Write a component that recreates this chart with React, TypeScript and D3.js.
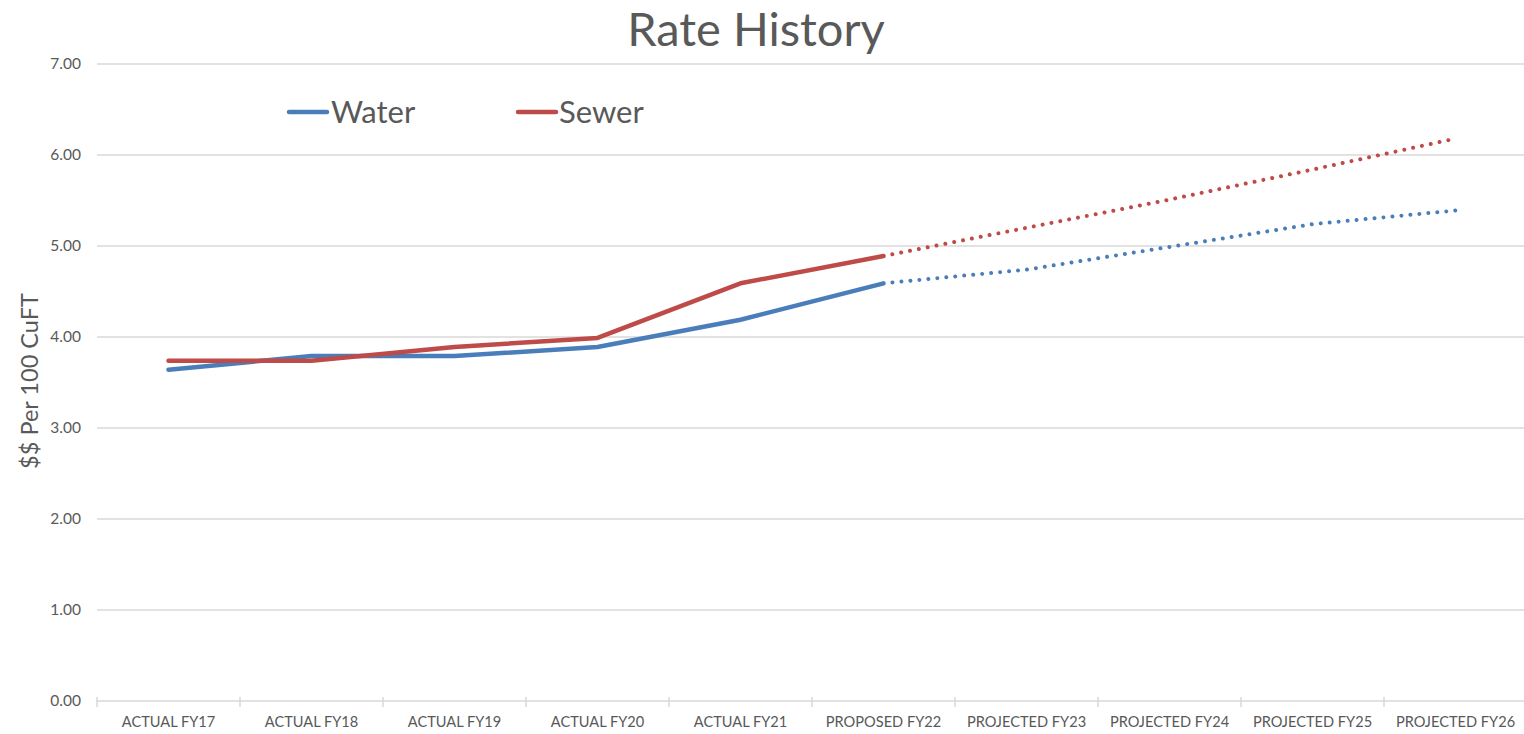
/**
 * RateHistory chart
 *
 * Water & sewer rates per 100 CuFT, actual + projected.
 * Solid line for actual/proposed years, dotted for projections.
 */

import { useEffect, useRef } from 'react';
import * as d3 from 'd3';

const categories = [
  'ACTUAL FY17',
  'ACTUAL FY18',
  'ACTUAL FY19',
  'ACTUAL FY20',
  'ACTUAL FY21',
  'PROPOSED FY22',
  'PROJECTED FY23',
  'PROJECTED FY24',
  'PROJECTED FY25',
  'PROJECTED FY26',
];

const waterRates = [3.64, 3.79, 3.79, 3.89, 4.19, 4.59, 4.74, 4.99, 5.24, 5.39];
const sewerRates = [3.74, 3.74, 3.89, 3.99, 4.59, 4.89, 5.2, 5.51, 5.84, 6.18];

// last index drawn solid, the rest is projected (dotted)
const lastActual = 5;

const yTicks = [0, 1, 2, 3, 4, 5, 6, 7];

const WIDTH = 1524;
const HEIGHT = 734;
const FONT = 'Lato, "Open Sans", sans-serif';
const TEXT = '#595959';

export default function App() {
  const svgRef = useRef<SVGSVGElement>(null);

  useEffect(() => {
    if (!svgRef.current) return;
    const svg = d3.select(svgRef.current);
    svg.selectAll('*').remove();

    const x = d3.scaleBand<string>().domain(categories).range([97, 1527]);
    const y = d3.scaleLinear().domain([0, 7]).range([701, 64]);
    const cx = (i: number) => (x(categories[i]) ?? 0) + x.bandwidth() / 2;

    // title
    svg
      .append('text')
      .attr('x', 756)
      .attr('y', 46)
      .attr('text-anchor', 'middle')
      .style('font-family', FONT)
      .style('font-size', '47px')
      .style('fill', TEXT)
      .text('Rate History');

    // gridlines + y labels
    const grid = svg.append('g');
    grid
      .selectAll('line')
      .data(yTicks.filter((d) => d > 0))
      .enter()
      .append('line')
      .attr('x1', 97)
      .attr('x2', 1527)
      .attr('y1', (d) => y(d))
      .attr('y2', (d) => y(d))
      .style('stroke', '#d9d9d9')
      .style('stroke-width', '1.5px');

    grid
      .selectAll('text')
      .data(yTicks)
      .enter()
      .append('text')
      .attr('x', 81)
      .attr('y', (d) => y(d))
      .attr('dy', '0.35em')
      .attr('text-anchor', 'end')
      .style('font-family', FONT)
      .style('font-size', '15.5px')
      .style('fill', TEXT)
      .text((d) => d3.format('.2f')(d));

    // x axis line with tick marks at category boundaries
    const xAxis = svg.append('g');
    xAxis
      .append('line')
      .attr('x1', 97)
      .attr('x2', 1527)
      .attr('y1', y(0))
      .attr('y2', y(0))
      .style('stroke', '#d9d9d9')
      .style('stroke-width', '1.5px');

    const bounds = categories.map((c) => x(c) ?? 0);
    xAxis
      .selectAll('.tick')
      .data(bounds)
      .enter()
      .append('line')
      .attr('class', 'tick')
      .attr('x1', (d) => d)
      .attr('x2', (d) => d)
      .attr('y1', y(0) - 4)
      .attr('y2', y(0) + 6)
      .style('stroke', '#d9d9d9')
      .style('stroke-width', '1.5px');

    xAxis
      .selectAll('.label')
      .data(categories)
      .enter()
      .append('text')
      .attr('class', 'label')
      .attr('x', (_d, i) => cx(i))
      .attr('y', 727)
      .attr('text-anchor', 'middle')
      .style('font-family', FONT)
      .style('font-size', '14.6px')
      .style('fill', TEXT)
      .text((d) => d);

    // y axis title
    svg
      .append('text')
      .attr('transform', 'translate(38, 381) rotate(-90)')
      .attr('text-anchor', 'middle')
      .style('font-family', FONT)
      .style('font-size', '23.5px')
      .style('fill', TEXT)
      .text('$$ Per 100 CuFT');

    // series
    const series = [
      { name: 'Water', values: waterRates, color: '#4a7ebb' },
      { name: 'Sewer', values: sewerRates, color: '#be4b48' },
    ];

    const line = d3
      .line<[number, number]>()
      .x((d) => cx(d[0]))
      .y((d) => y(d[1]));

    series.forEach((s) => {
      const pts: [number, number][] = s.values.map((v, i) => [i, v]);

      svg
        .append('path')
        .attr('d', line(pts.slice(0, lastActual + 1)))
        .style('fill', 'none')
        .style('stroke', s.color)
        .style('stroke-width', '4.5px')
        .style('stroke-linejoin', 'round')
        .style('stroke-linecap', 'round');

      svg
        .append('path')
        .attr('d', line(pts.slice(lastActual)))
        .style('fill', 'none')
        .style('stroke', s.color)
        .style('stroke-width', '4px')
        .style('stroke-linecap', 'round')
        .style('stroke-dasharray', '0.01 9')
        .style('stroke-dashoffset', '-9');
    });

    // legend
    const legendPos = [
      { x1: 289, x2: 327, tx: 331 },
      { x1: 518, x2: 556, tx: 559 },
    ];
    series.forEach((s, i) => {
      const p = legendPos[i];
      svg
        .append('line')
        .attr('x1', p.x1)
        .attr('x2', p.x2)
        .attr('y1', 112)
        .attr('y2', 112)
        .style('stroke', s.color)
        .style('stroke-width', '4.5px')
        .style('stroke-linecap', 'round');
      svg
        .append('text')
        .attr('x', p.tx)
        .attr('y', 123)
        .style('font-family', FONT)
        .style('font-size', '31px')
        .style('fill', TEXT)
        .text(s.name);
    });
  }, []);

  return (
    <svg
      ref={svgRef}
      width={WIDTH}
      height={HEIGHT}
      style={{ position: 'absolute', left: 0, top: 0, background: '#fff' }}
    />
  );
}
